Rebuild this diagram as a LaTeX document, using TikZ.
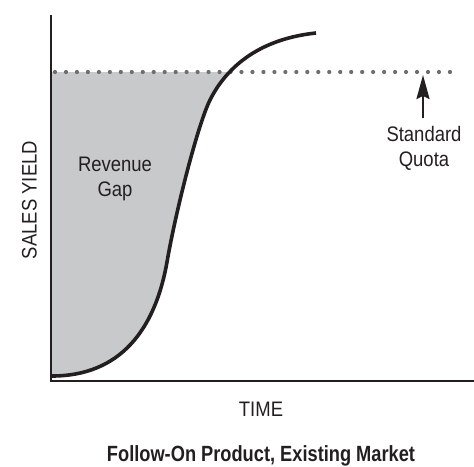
\documentclass[tikz,border=0pt]{standalone}
\usepackage{fontspec}
\setmainfont{Liberation Sans}[FakeStretch=0.88]
\newfontfamily\titlefont{Liberation Sans}
\usetikzlibrary{arrows.meta}
\definecolor{ink}{HTML}{231F20}
\definecolor{gapgray}{HTML}{C8C9CB}
\definecolor{dotgray}{HTML}{6D6E70}
\begin{document}
\begin{tikzpicture}[x=1pt,y=-1pt,
  lbl/.style={font=\fontsize{21}{25}\selectfont, text=ink, align=center, inner sep=0pt, anchor=base},
  axisline/.style={draw=ink, line width=2.2pt},
  curveline/.style={draw=ink, line width=3.6pt},
  quotaline/.style={draw=dotgray, line width=4.2pt, line cap=round, dash pattern=on 0pt off 10.97pt},
  pointer/.style={draw=ink, line width=2.2pt, -{Stealth[length=24pt,width=13pt,inset=3pt]}}]
\useasboundingbox (0,0) rectangle (474,466);
% axes
\coordinate (ytop) at (51,15);
\coordinate (origin) at (51,381);
\coordinate (xend) at (474,381);
% quota line ends
\coordinate (qstart) at (55,72);
\coordinate (qend) at (450,72);
\coordinate (qarrow) at (423,75);
% revenue gap fill
\begin{scope}
  \clip (51,72) rectangle (474,381);
  \fill[gapgray] (51,20) -- (51,376) .. controls (120,376) and (155,330) .. (167,262)
     .. controls (176,210) and (198,124) .. (210,100)
     .. controls (222,76) and (250,40) .. (316,33) -- cycle;
\end{scope}
\draw[quotaline] (qstart) -- (qend);
\draw[curveline] (52,376) .. controls (120,376) and (155,330) .. (167,262)
     .. controls (176,210) and (198,124) .. (210,100)
     .. controls (222,76) and (250,40) .. (316,33);
\draw[axisline] (ytop) -- (origin) -- (xend);
% labels
\node[lbl] (gap) at (115,196.7) {Revenue\\Gap};
\node[lbl] (quota) at (424,166.5) {Standard\\Quota};
\node[lbl] (time) at (261,416.7) {TIME};
\node[lbl, rotate=90] (yield) at (36.7,200) {SALES YIELD};
\node[inner sep=0pt, anchor=base, text=ink, font=\titlefont\bfseries\fontsize{22}{26}\selectfont] (title) at (261,461) {\resizebox{308pt}{\height}{Follow-On Product, Existing Market}};
\coordinate (qfoot) at (423,118);
\draw[pointer] (qfoot) -- (qarrow);
\end{tikzpicture}
\end{document}
